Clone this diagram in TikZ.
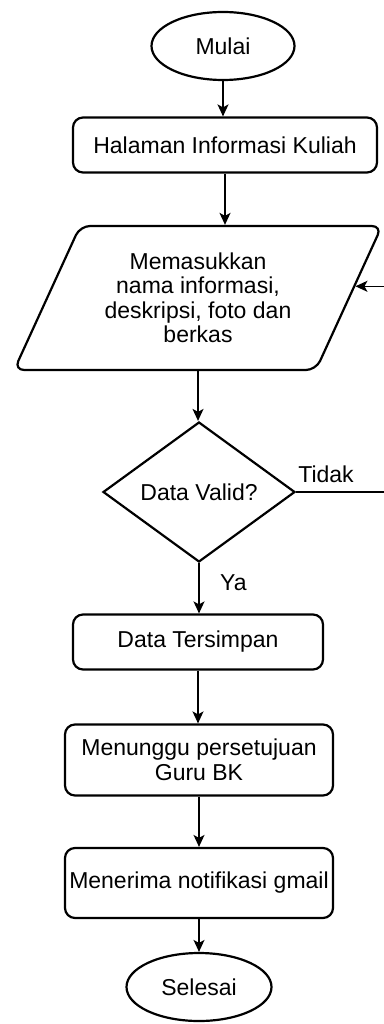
\documentclass[tikz,border=0pt]{standalone}
\usepackage{fontspec}
\setmainfont{Liberation Sans}
\usetikzlibrary{shapes.geometric,arrows.meta,calc}
\tikzstyle{terminal}=[ellipse, draw=black, line width=2.2pt, minimum width=143pt, minimum height=68pt, inner sep=0pt, anchor=center]
\tikzstyle{process}=[rectangle, rounded corners=10pt, draw=black, line width=2.2pt, minimum height=55pt, inner sep=0pt, align=center, anchor=center]
\tikzstyle{io}=[trapezium, trapezium left angle=60, trapezium right angle=120, trapezium stretches=true, rounded corners=10pt, draw=black, line width=2.2pt, minimum width=368pt, minimum height=144pt, inner sep=0pt, align=center]
\tikzstyle{decision}=[diamond, draw=black, line width=2.2pt, minimum width=192pt, minimum height=140pt, aspect=1.37, inner sep=0pt, align=center]
\tikzstyle{flow}=[-{Stealth[length=12pt,width=11pt,inset=3pt]}, line width=1.6pt]
\tikzstyle{annot}=[inner sep=0pt]

\begin{document}
\begin{tikzpicture}[x=1pt, y=-1pt, font=\fontsize{23}{24.5}\selectfont]
	\useasboundingbox (0,0) rectangle (383,1024);

	\node[terminal](mulai) at (223,46){Mulai};
	\node[process, minimum width=304pt](halaman) at (225,145){Halaman Informasi Kuliah};
	\node[io](input) at (198,298){Memasukkan\\ nama informasi,\\deskripsi, foto dan\\berkas};
	\node[decision](valid) at (199,492){Data Valid?};
	\node[process, minimum width=250pt](simpan) at (198,642){Data Tersimpan};
	\node[process, minimum width=268pt, minimum height=71pt](tunggu) at (199,760){Menunggu persetujuan\\Guru BK};
	\node[process, minimum width=268pt, minimum height=70pt](notif) at (199,883){Menerima notifikasi gmail};
	\node[terminal, minimum width=145pt](selesai) at (199,987){Selesai};

	\draw[flow] (mulai.south) -- (mulai.south |- halaman.north);
	\draw[flow] (halaman.south) -- (halaman.south |- input.north);
	\draw[flow] (input.south) -- (input.south |- valid.north);
	\draw[flow] (valid.south) -- (valid.south |- simpan.north);
	\draw[flow] (simpan.south) -- (simpan.south |- tunggu.north);
	\draw[flow] (tunggu) -- (notif);
	\draw[flow] (notif) -- (selesai);

	% tidak valid, kembali ke input
	\coordinate (entry) at ($(input.top right corner)!0.42!(input.bottom right corner)$);
	\coordinate (back) at (388,492);
	\draw[flow] (valid.east) -- (back) |- (entry);

	\node[annot, anchor=south west](tidak) at ([xshift=2pt, yshift=9pt]valid.east){Tidak};
	\node[annot, anchor=north west](ya) at ([xshift=21pt, yshift=-11pt]valid.south){Ya};
\end{tikzpicture}
\end{document}
